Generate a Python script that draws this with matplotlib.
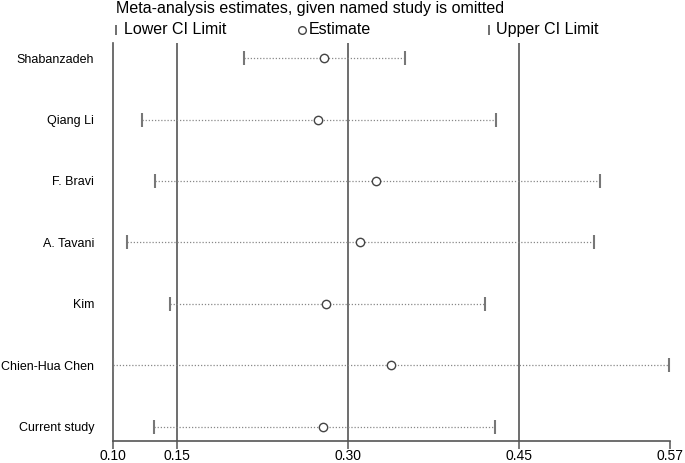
import numpy as np
import matplotlib.pyplot as plt
from matplotlib.lines import Line2D

plt.rcParams['font.family'] = ['Liberation Sans', 'DejaVu Sans']

# study omitted, estimate and 95% CI
studies = ['Shabanzadeh', 'Qiang Li', 'F. Bravi', 'A. Tavani', 'Kim',
           'Chien-Hua Chen', 'Current study']
estimate = [0.279, 0.274, 0.325, 0.311, 0.281, 0.338, 0.278]
lower = [0.209, 0.120, 0.131, 0.107, 0.144, 0.094, 0.130]
upper = [0.350, 0.430, 0.521, 0.516, 0.420, 0.581, 0.429]

# overall lower CI, estimate, upper CI lines
ref_lines = [0.15, 0.30, 0.45]
x_min, x_max = 0.0942, 0.5819
tick_vals = [x_min, 0.15, 0.30, 0.45, x_max]
tick_labels = ['0.10', '0.15', '0.30', '0.45', '0.57']

fig = plt.figure(figsize=(6.85, 4.63), dpi=100)
ax = fig.add_axes([0.1647, 1 - 440.7 / 463, 0.8128, (440.7 - 43) / 463])

y = np.arange(len(studies))
grey = '#555555'

for xv in ref_lines:
    ax.axvline(xv, color=grey, lw=1.2, zorder=1)

ax.hlines(y, lower, upper, color='#888888', lw=0.9, linestyles=(0, (1, 1.5)), zorder=2)
ax.plot(lower, y, ls='none', marker='|', ms=10, mew=1.5, color='#777777', zorder=3)
ax.plot(upper, y, ls='none', marker='|', ms=10, mew=1.5, color='#777777', zorder=3)
ax.plot(estimate, y, ls='none', marker='o', ms=6, mfc='white', mec='#444444',
        mew=1.0, zorder=4)

ax.set_xlim(x_min, x_max)
ax.set_ylim(len(studies) - 1 + 0.225, -0.245)
ax.set_xticks(tick_vals)
ax.set_xticklabels(tick_labels, fontsize=10)
ax.set_yticks(y)
ax.set_yticklabels(studies, fontsize=9)
ax.tick_params(axis='y', length=0, pad=13.5)
ax.tick_params(axis='x', length=5.5, width=1.1, color=grey, pad=0.8)

for side in ['top', 'right']:
    ax.spines[side].set_visible(False)
for side in ['left', 'bottom']:
    ax.spines[side].set_color(grey)
    ax.spines[side].set_linewidth(1.2)

# header and legend
fig.text(116 / 685, 1 - 8.5 / 463, 'Meta-analysis estimates, given named study is omitted',
         fontsize=11.5, va='center', ha='left')
ly = 1 - 29.5 / 463
fig.add_artist(Line2D([116 / 685], [ly], transform=fig.transFigure, marker='|', ms=7,
                      mew=1.2, color='#555555', ls='none'))
fig.text(124 / 685, ly, 'Lower CI Limit', fontsize=11.5, va='center', ha='left')
fig.add_artist(Line2D([302 / 685], [ly], transform=fig.transFigure, marker='o', ms=5.5,
                      mfc='white', mec='#444444', mew=1.0, ls='none'))
fig.text(309 / 685, ly, 'Estimate', fontsize=11.5, va='center', ha='left')
fig.add_artist(Line2D([489 / 685], [ly], transform=fig.transFigure, marker='|', ms=7,
                      mew=1.2, color='#555555', ls='none'))
fig.text(496 / 685, ly, 'Upper CI Limit', fontsize=11.5, va='center', ha='left')

fig.savefig('out.png', dpi=100)
